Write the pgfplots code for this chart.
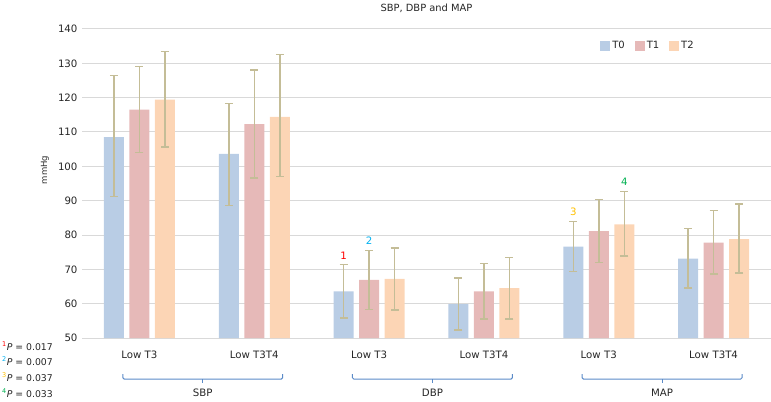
\documentclass[border=0pt]{standalone}
\usepackage{fontspec}
\setmainfont{DejaVu Sans}
\usepackage{pgfplots}
\usepackage{pgfplotstable}
\pgfplotsset{compat=1.18}

\definecolor{cT0}{HTML}{B9CDE5}
\definecolor{cT1}{HTML}{E6B9B8}
\definecolor{cT2}{HTML}{FCD5B5}
\definecolor{errc}{HTML}{C4BD97}
\definecolor{gridc}{HTML}{D9D9D9}
\definecolor{brk}{HTML}{5B8BC8}
\definecolor{txt}{HTML}{262626}

% x: 0/1 SBP, 2/3 DBP, 4/5 MAP (Low T3, Low T3T4); ep/em = error plus/minus
\pgfplotstableread{
x y ep em
0 108.5 17.9 17.3
1 103.6 14.7 15.0
2 63.6 7.8 7.8
3 59.9 7.6 7.6
4 76.6 7.3 7.2
5 73.1 8.8 8.6
}\tzero
\pgfplotstableread{
x y ep em
0 116.5 12.6 12.4
1 112.3 15.7 15.7
2 66.9 8.6 8.6
3 63.6 8.1 8.1
4 81.1 9.3 9.1
5 77.8 9.3 9.1
}\tone
\pgfplotstableread{
x y ep em
0 119.4 14.0 13.8
1 114.4 18.1 17.3
2 67.2 9.0 9.0
3 64.5 8.9 8.9
4 83.1 9.6 9.2
5 78.8 10.2 9.8
}\ttwo

\begin{document}
\begin{tikzpicture}[font=\fontsize{10.2bp}{12bp}\selectfont, color=txt]
\begin{axis}[
  at={(0,0)}, anchor=south west,
  scale only axis, width=689bp, height=309bp,
  xmin=-0.5, xmax=5.5, ymin=50, ymax=140,
  ytick={50,60,...,140},
  xtick={0,...,5},
  xticklabels={Low T3, Low T3T4, Low T3, Low T3T4, Low T3, Low T3T4},
  ybar=5.5bp, bar width=20bp,
  axis line style={draw=none},
  ymajorgrids, major grid style={color=gridc, line width=1bp},
  major tick length=0pt,
  tick label style={font=\fontsize{10.2bp}{12bp}\selectfont, color=txt},
  xticklabel style={yshift=-9bp},
  yticklabel style={xshift=-1bp},
  /pgf/number format/assume math mode=true,
  clip=false,
  legend style={draw=none, fill=none, at={(0.752,0.946)}, anchor=west,
    inner sep=0pt, font=\fontsize{10bp}{12bp}\selectfont,
    /tikz/every even column/.append style={column sep=8bp}},
  legend columns=3,
  legend image code/.code={\fill[#1] (0bp,-5bp) rectangle (10bp,5bp);},
  error bars/y dir=both, error bars/y explicit,
  error bars/error bar style={color=errc, line width=1.5bp},
  error bars/error mark options={rotate=90, mark size=4bp, line width=1.5bp, color=errc},
]
\addplot[fill=cT0, draw=none] table[x=x, y=y, y error plus=ep, y error minus=em] {\tzero};
\addlegendentry{T0}
\addplot[fill=cT1, draw=none] table[x=x, y=y, y error plus=ep, y error minus=em] {\tone};
\addlegendentry{T1}
\addplot[fill=cT2, draw=none] table[x=x, y=y, y error plus=ep, y error minus=em] {\ttwo};
\addlegendentry{T2}

% significance markers
\node[red, anchor=south] at (axis cs:2,71.4) [xshift=-25.5bp, yshift=2bp] {1};
\node[color={rgb,255:red,0;green,176;blue,240}, anchor=south] at (axis cs:2,75.5) [yshift=2bp] {2};
\node[color={rgb,255:red,255;green,192;blue,0}, anchor=south] at (axis cs:4,83.9) [xshift=-25.5bp, yshift=2bp] {3};
\node[color={rgb,255:red,0;green,176;blue,80}, anchor=south] at (axis cs:4,92.7) [xshift=25.5bp, yshift=2bp] {4};

% group brackets
\draw[brk, line width=1bp, rounded corners=1.5bp]
  (axis cs:-0.145,39.5) -- (axis cs:-0.145,38) -- (axis cs:1.248,38) -- (axis cs:1.248,39.5);
\draw[brk, line width=1bp] (axis cs:0.552,38) -- (axis cs:0.552,36.9);
\draw[brk, line width=1bp, rounded corners=1.5bp]
  (axis cs:1.855,39.5) -- (axis cs:1.855,38) -- (axis cs:3.248,38) -- (axis cs:3.248,39.5);
\draw[brk, line width=1bp] (axis cs:2.552,38) -- (axis cs:2.552,36.9);
\draw[brk, line width=1bp, rounded corners=1.5bp]
  (axis cs:3.855,39.5) -- (axis cs:3.855,38) -- (axis cs:5.248,38) -- (axis cs:5.248,39.5);
\draw[brk, line width=1bp] (axis cs:4.552,38) -- (axis cs:4.552,36.9);
\node at (axis cs:0.552,34) {SBP};
\node at (axis cs:2.552,34) {DBP};
\node at (axis cs:4.552,34) {MAP};

\node[font=\fontsize{9.9bp}{11bp}\selectfont] at (rel axis cs:0.5,1) [yshift=21bp] {SBP, DBP and MAP};
\node[xshift=-37bp, rotate=90, font=\fontsize{8.5bp}{10bp}\selectfont] at (rel axis cs:0,0.544) {mmHg};
\end{axis}

% p-values
\begin{scope}[font=\fontsize{9.3bp}{10bp}\selectfont]
\node[anchor=west, inner sep=0pt] at (-80bp,-8bp) {\textsuperscript{\textcolor{red}{1}}\textit{P} = 0.017};
\node[anchor=west, inner sep=0pt] at (-80bp,-23bp) {\textsuperscript{\textcolor[RGB]{0,176,240}{2}}\textit{P} = 0.007};
\node[anchor=west, inner sep=0pt] at (-80bp,-39bp) {\textsuperscript{\textcolor[RGB]{255,192,0}{3}}\textit{P} = 0.037};
\node[anchor=west, inner sep=0pt] at (-80bp,-55bp) {\textsuperscript{\textcolor[RGB]{0,176,80}{4}}\textit{P} = 0.033};
\end{scope}

\pgfresetboundingbox
\path[use as bounding box] (-82bp,-64bp) rectangle (689bp,338bp);
\end{tikzpicture}
\end{document}
